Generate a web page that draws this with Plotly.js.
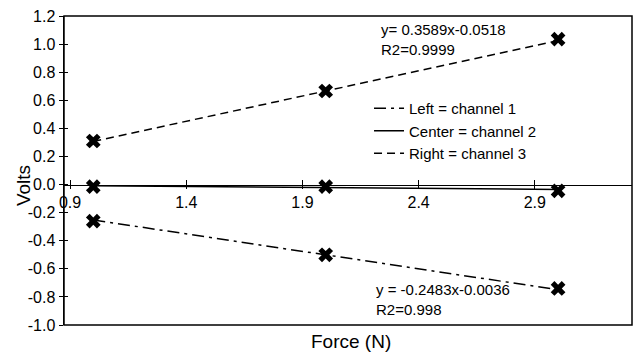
<!DOCTYPE html>
<html>
<head>
<meta charset="utf-8">
<script src="https://cdn.plot.ly/plotly-3.0.1.min.js"></script>
<style>html,body{margin:0;padding:0;background:#fff;}#chart{width:638px;height:356px;}</style>
</head>
<body>
<div id="chart"></div>
<script>
// Data
const force = [1, 2, 3];
const leftVolts = [-0.26, -0.50, -0.74];
const centerVolts = [-0.015, -0.015, -0.045];
const rightVolts = [0.31, 0.666, 1.035];

const trendX = [1, 3];
const leftTrend = [-0.252, -0.749];
const centerTrend = [-0.008, -0.035];
const rightTrend = [0.307, 1.025];

const seriesNames = ["Left = channel 1", "Center = channel 2", "Right = channel 3"];
const eqRight = "y= 0.3589x-0.0518<br>R2=0.9999";
const eqLeft = "y = -0.2483x-0.0036<br>R2=0.998";

const yTicks = [-1.0, -0.8, -0.6, -0.4, -0.2, 0.0, 0.2, 0.4, 0.6, 0.8, 1.0, 1.2];
const xTicks = [0.9, 1.4, 1.9, 2.4, 2.9];

const FONT = "Liberation Sans, Arial, sans-serif";
const yRange = [-1.0, 1.2];
const xRange = [0.874, 3.318];
const zeroPos = (0 - yRange[0]) / (yRange[1] - yRange[0]);

const lineStyle = (dash) => ({color: "#000", width: 1.5, dash: dash});
const markerStyle = {symbol: "x", size: 13, color: "#000", line: {width: 0}};

const traces = [
  {x: trendX, y: leftTrend, mode: "lines", name: seriesNames[0], line: lineStyle("12px,5px,3px,5px")},
  {x: trendX, y: centerTrend, mode: "lines", name: seriesNames[1], line: lineStyle("solid")},
  {x: trendX, y: rightTrend, mode: "lines", name: seriesNames[2], line: lineStyle("8px,5px")},
  {x: force, y: leftVolts, mode: "markers", marker: markerStyle, showlegend: false},
  {x: force, y: centerVolts, mode: "markers", marker: markerStyle, showlegend: false},
  {x: force, y: rightVolts, mode: "markers", marker: markerStyle, showlegend: false},
  // invisible trace to activate secondary axes for crossing ticks
  {x: [xRange[0]], y: [0], xaxis: "x2", yaxis: "y2", mode: "markers", marker: {opacity: 0}, showlegend: false, hoverinfo: "skip"}
];

const layout = {
  width: 638, height: 356,
  margin: {l: 64, r: 6, t: 16, b: 31},
  paper_bgcolor: "#fff", plot_bgcolor: "#fff",
  font: {family: FONT, color: "#000", size: 16},
  showlegend: true,
  legend: {x: 0.537, y: 0.754, xanchor: "left", yanchor: "top", bgcolor: "rgba(0,0,0,0)",
           font: {family: FONT, size: 15, color: "#000"}, itemwidth: 30, tracegroupgap: 0},
  xaxis: {range: xRange, anchor: "free", position: zeroPos, showline: true, linecolor: "#000", linewidth: 1.5,
          tickmode: "array", tickvals: xTicks, ticktext: xTicks.map(v => v.toFixed(1)),
          ticks: "outside", ticklen: 3, tickwidth: 1, tickcolor: "#000",
          showgrid: false, zeroline: false, tickfont: {family: FONT, size: 16, color: "#000"}},
  yaxis: {range: yRange, showline: true, linecolor: "#000", linewidth: 1.5,
          tickmode: "array", tickvals: yTicks, ticktext: yTicks.map(v => v.toFixed(1)),
          ticks: "outside", ticklen: 4, tickwidth: 1, tickcolor: "#000",
          showgrid: false, zeroline: false, tickfont: {family: FONT, size: 16, color: "#000"}},
  xaxis2: {range: xRange, overlaying: "x", anchor: "free", position: zeroPos, showline: false,
           tickmode: "array", tickvals: xTicks, showticklabels: false,
           ticks: "inside", ticklen: 5, tickwidth: 1, tickcolor: "#000", showgrid: false, zeroline: false},
  yaxis2: {range: yRange, overlaying: "y", anchor: "x", side: "left", showline: false,
           tickmode: "array", tickvals: yTicks, showticklabels: false,
           ticks: "inside", ticklen: 4, tickwidth: 1, tickcolor: "#000", showgrid: false, zeroline: false},
  shapes: [
    {type: "rect", xref: "paper", yref: "paper", x0: 0, x1: 1, y0: 0, y1: 1, line: {color: "#000", width: 1.5}, layer: "above"}
  ],
  annotations: [
    {text: eqRight, xref: "x", yref: "paper", x: 2.23, y: 0.99, xanchor: "left", yanchor: "top", align: "left",
     showarrow: false, font: {family: FONT, size: 15, color: "#000"}},
    {text: eqLeft, xref: "x", yref: "paper", x: 2.21, y: 0.148, xanchor: "left", yanchor: "top", align: "left",
     showarrow: false, font: {family: FONT, size: 15, color: "#000"}},
    {text: "Force (N)", xref: "paper", yref: "paper", x: (351 - 64) / 568, y: (325 - 341) / 309, xanchor: "center", yanchor: "middle",
     showarrow: false, font: {family: FONT, size: 19, color: "#000"}},
    {text: "Volts", xref: "paper", yref: "paper", x: -0.072, y: (325 - 186) / 309, xanchor: "center", yanchor: "middle",
     textangle: -90, showarrow: false, font: {family: FONT, size: 19, color: "#000"}}
  ]
};

Plotly.newPlot("chart", traces, layout, {displayModeBar: false, staticPlot: true});
</script>
</body>
</html>
